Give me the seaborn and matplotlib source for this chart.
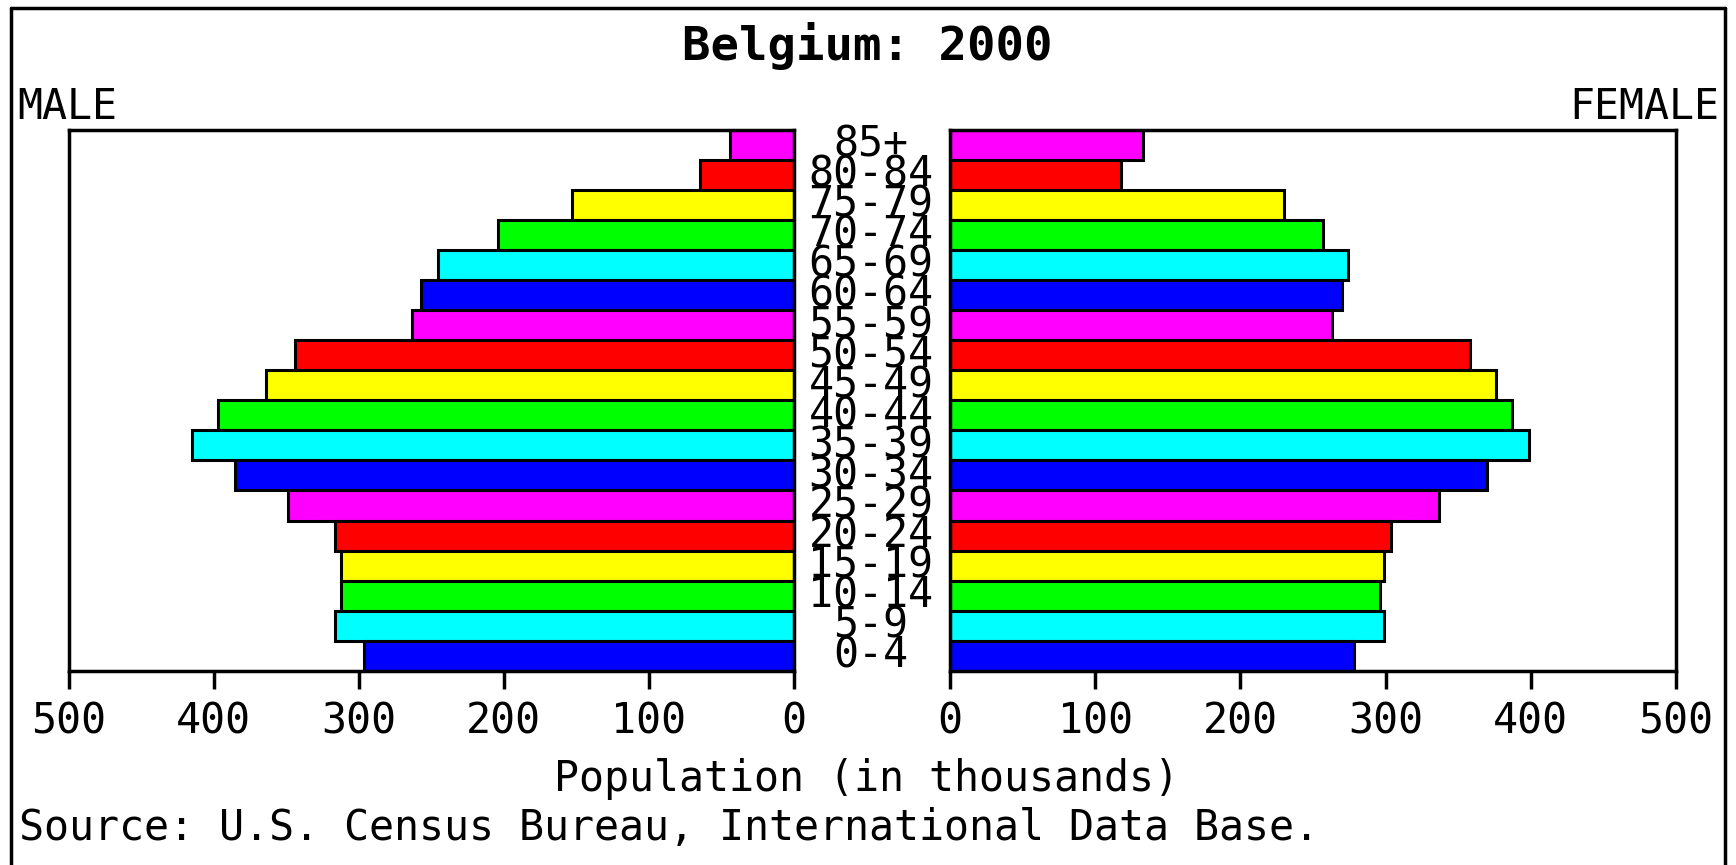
import matplotlib
matplotlib.use("Agg")
import matplotlib.pyplot as plt
import matplotlib.transforms as mtransforms
from matplotlib.lines import Line2D
import seaborn as sns
import pandas as pd

# ---- data (top to bottom) ----
ages = ["85+", "80-84", "75-79", "70-74", "65-69", "60-64", "55-59", "50-54", "45-49",
        "40-44", "35-39", "30-34", "25-29", "20-24", "15-19", "10-14", "5-9", "0-4"]
male = [44, 65, 153, 204, 245, 257, 263, 344, 364, 397, 415, 385, 349, 316, 312, 312, 316, 296]
female = [133, 118, 230, 257, 274, 270, 263, 358, 376, 387, 399, 370, 337, 304, 299, 296, 299, 278]
bar_colors = ["#FF00FF", "#FF0000", "#FFFF00", "#00FF00", "#00FFFF", "#0000FF"] * 3
xticks = [0, 100, 200, 300, 400, 500]

title = "Belgium: 2000"
xlabel = "Population (in thousands)"
source = "Source: U.S. Census Bureau, International Data Base."

sns.set_theme(style="white")
plt.rcParams["font.family"] = ["DejaVu Sans Mono", "DejaVu Sans"]
plt.rcParams["text.color"] = "black"
plt.rcParams["xtick.color"] = "black"
plt.rcParams["xtick.labelcolor"] = "black"
plt.rcParams["axes.labelcolor"] = "black"

df = pd.DataFrame({"age": ages, "male": male, "female": female})
pal = dict(zip(ages, bar_colors))

W, H = 1736, 865
fig = plt.figure(figsize=(W / 100, H / 100), dpi=100)
fig.patch.set_facecolor("white")

bottom = 1 - 670.9 / H
height = (670.9 - 129.5) / H
ax1 = fig.add_axes([68.6 / W, bottom, (793.8 - 68.6) / W, height])
ax2 = fig.add_axes([949.8 / W, bottom, (1676 - 949.8) / W, height])

for ax, col in ((ax1, "male"), (ax2, "female")):
    sns.barplot(data=df, x=col, y="age", hue="age", palette=pal, order=ages,
                orient="h", width=1.0, edgecolor="black", linewidth=2.2,
                legend=False, ax=ax, saturation=1)
    ax.set_ylim(len(ages) - 0.5, -0.5)
    ax.set_yticks([])
    ax.set_ylabel("")
    ax.set_xlabel("")
    ax.set_xticks(xticks)
    ax.set_xticklabels([str(t) for t in xticks], fontsize=30, color="black")
    ax.tick_params(axis="x", length=13, width=2.5, color="black", pad=8,
                   bottom=True, direction="out", labelcolor="black")
    for s in ax.spines.values():
        s.set_visible(True)
        s.set_color("black")
        s.set_linewidth(2.5)
    ax.set_facecolor("white")

ax1.set_xlim(500, 0)
ax2.set_xlim(0, 500)

# age labels in the centre gap
trans = mtransforms.blended_transform_factory(fig.transFigure, ax1.transData)
for i, lab in enumerate(ages):
    ax1.text(871 / W, i, lab, transform=trans, ha="center", va="center",
             fontsize=30, color="black", clip_on=False)

fig.text(867 / W, 1 - 46 / H, title, ha="center", va="center",
         fontsize=34, fontweight="bold", color="black")
fig.text(17 / W, 1 - 107 / H, "MALE", ha="left", va="center", fontsize=30, color="black")
fig.text(1719 / W, 1 - 107 / H, "FEMALE", ha="right", va="center", fontsize=30, color="black")
fig.text(867 / W, 1 - 779 / H, xlabel, ha="center", va="center", fontsize=30, color="black")
fig.text(19 / W, 1 - 828 / H, source, ha="left", va="center", fontsize=30, color="black")

# outer frame (left, top, right)
lx, rx, ty = 11 / W, 1725 / W, 1 - 8 / H
for xs, ys in (([lx, lx], [0, ty]), ([lx, rx], [ty, ty]), ([rx, rx], [ty, 0])):
    fig.add_artist(Line2D(xs, ys, transform=fig.transFigure, color="black", linewidth=2.5))

fig.savefig("out.png", dpi=100, facecolor="white")
